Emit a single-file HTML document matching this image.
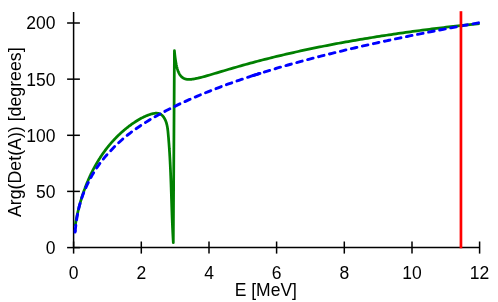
<!DOCTYPE html>
<html><head><meta charset="utf-8"><style>
html,body{margin:0;padding:0;background:#fff;}
body{width:498px;height:302px;overflow:hidden;}
svg{display:block;will-change:transform;}
.ax{stroke:#000;stroke-width:1.5;fill:none;}
.g{stroke:#008000;stroke-width:2.75;fill:none;stroke-linejoin:round;}
.b{stroke:#0000ff;stroke-width:2.9;fill:none;stroke-linecap:round;stroke-linejoin:round;}
.b1{stroke-dasharray:5.7 5.497;}
.b2{stroke-dasharray:5.7 5.578;}
.r{stroke:#ff0000;stroke-width:2.7;}
.t{font-family:"Liberation Sans",sans-serif;font-size:17.5px;fill:#000;}
</style></head><body>
<svg width="498" height="302" viewBox="0 0 498 302">
<line x1="73.6" y1="12" x2="73.6" y2="247.6" class="ax"/>
<line x1="73.6" y1="247.6" x2="479.6" y2="247.6" class="ax"/>
<line x1="67.1" y1="247.6" x2="79.9" y2="247.6" class="ax"/>
<line x1="67.1" y1="191.4" x2="79.9" y2="191.4" class="ax"/>
<line x1="67.1" y1="135.3" x2="79.9" y2="135.3" class="ax"/>
<line x1="67.1" y1="79.15" x2="79.9" y2="79.15" class="ax"/>
<line x1="67.1" y1="23.0" x2="79.9" y2="23.0" class="ax"/>
<line x1="73.6" y1="241.5" x2="73.6" y2="253.6" class="ax"/>
<line x1="141.3" y1="241.5" x2="141.3" y2="253.6" class="ax"/>
<line x1="209.0" y1="241.5" x2="209.0" y2="253.6" class="ax"/>
<line x1="276.6" y1="241.5" x2="276.6" y2="253.6" class="ax"/>
<line x1="344.3" y1="241.5" x2="344.3" y2="253.6" class="ax"/>
<line x1="412.0" y1="241.5" x2="412.0" y2="253.6" class="ax"/>
<line x1="479.6" y1="241.5" x2="479.6" y2="253.6" class="ax"/>
<path d="M75.14,226.11 L75.22,225.65 L75.29,225.19 L75.36,224.73 L75.44,224.27 L75.51,223.82 L75.59,223.36 L75.67,222.90 L75.75,222.44 L75.83,221.98 L75.91,221.52 L75.99,221.07 L76.08,220.61 L76.16,220.15 L76.25,219.69 L76.34,219.23 L76.42,218.77 L76.51,218.31 L76.60,217.85 L76.69,217.40 L76.79,216.94 L76.88,216.48 L76.98,216.02 L77.07,215.56 L77.17,215.10 L77.27,214.64 L77.37,214.18 L77.47,213.73 L77.57,213.27 L77.67,212.81 L77.77,212.35 L77.88,211.89 L77.98,211.43 L78.09,210.98 L78.20,210.52 L78.31,210.06 L78.42,209.60 L78.53,209.14 L78.64,208.69 L78.76,208.23 L78.87,207.77 L78.99,207.32 L79.11,206.86 L79.22,206.40 L79.34,205.95 L79.46,205.49 L79.59,205.03 L79.71,204.58 L79.83,204.12 L79.96,203.67 L80.08,203.21 L80.21,202.75 L80.34,202.30 L80.47,201.85 L80.60,201.39 L80.73,200.94 L80.87,200.48 L81.00,200.03 L81.14,199.57 L81.27,199.12 L81.41,198.67 L81.55,198.22 L81.69,197.76 L81.83,197.31 L81.97,196.86 L82.12,196.41 L82.26,195.96 L82.41,195.51 L82.55,195.06 L82.70,194.61 L82.85,194.16 L83.00,193.71 L83.15,193.26 L83.31,192.81 L83.46,192.36 L83.62,191.91 L83.77,191.47 L83.93,191.02 L84.09,190.57 L84.25,190.12 L84.41,189.68 L84.57,189.23 L84.74,188.79 L84.90,188.34 L85.07,187.90 L85.24,187.46 L85.40,187.01 L85.57,186.57 L85.74,186.13 L85.92,185.68 L86.09,185.24 L86.26,184.80 L86.44,184.36 L86.62,183.92 L86.79,183.48 L86.97,183.04 L87.15,182.61 L87.33,182.17 L87.52,181.73 L87.70,181.29 L87.89,180.86 L88.07,180.42 L88.26,179.99 L88.45,179.55 L88.64,179.12 L88.83,178.68 L89.02,178.25 L89.22,177.82 L89.41,177.39 L89.61,176.96 L89.81,176.53 L90.00,176.10 L90.20,175.67 L90.41,175.24 L90.61,174.81 L90.81,174.38 L91.02,173.96 L91.22,173.53 L91.43,173.11 L91.64,172.68 L91.85,172.26 L92.06,171.83 L92.27,171.41 L92.48,170.99 L92.70,170.57 L92.91,170.15 L93.13,169.73 L93.35,169.31 L93.57,168.89 L93.79,168.47 L94.01,168.06 L94.24,167.64 L94.46,167.23 L94.69,166.81 L94.91,166.40 L95.14,165.99 L95.37,165.57 L95.60,165.16 L95.83,164.75 L96.07,164.34 L96.30,163.93 L96.54,163.53 L96.78,163.12 L97.01,162.71 L97.25,162.31 L97.50,161.90 L97.74,161.50 L97.98,161.10 L98.23,160.69 L98.47,160.29 L98.72,159.89 L98.97,159.49 L99.22,159.10 L99.47,158.70 L99.72,158.30 L99.98,157.91 L100.23,157.51 L100.49,157.12 L100.75,156.72 L101.01,156.33 L101.27,155.94 L101.53,155.55 L101.79,155.16 L102.05,154.77 L102.32,154.39 L102.59,154.00 L102.85,153.62 L103.12,153.23 L103.39,152.85 L103.67,152.47 L103.94,152.09 L104.21,151.71 L104.49,151.33 L104.77,150.95 L105.05,150.57 L105.33,150.20 L105.61,149.82 L105.89,149.45 L106.17,149.08 L106.46,148.70 L106.75,148.33 L107.03,147.96 L107.32,147.60 L107.61,147.23 L107.90,146.86 L108.20,146.50 L108.49,146.13 L108.79,145.77 L109.08,145.41 L109.38,145.05 L109.68,144.69 L109.98,144.33 L110.29,143.98 L110.59,143.62 L110.89,143.27 L111.20,142.91 L111.51,142.56 L111.82,142.21 L112.13,141.86 L112.44,141.51 L112.75,141.16 L113.07,140.82 L113.38,140.47 L113.70,140.13 L114.02,139.78 L114.34,139.44 L114.66,139.10 L114.98,138.76 L115.31,138.42 L115.63,138.09 L115.96,137.75 L116.29,137.42 L116.62,137.08 L116.95,136.75 L117.28,136.42 L117.62,136.09 L117.95,135.76 L118.29,135.43 L118.63,135.11 L118.97,134.78 L119.31,134.46 L119.65,134.14 L119.99,133.82 L120.34,133.50 L120.68,133.18 L121.03,132.86 L121.38,132.54 L121.73,132.23 L122.08,131.92 L122.44,131.60 L122.79,131.29 L123.15,130.98 L123.51,130.67 L123.87,130.37 L124.23,130.06 L124.59,129.75 L124.95,129.45 L125.32,129.15 L125.69,128.85 L126.05,128.55 L126.42,128.25 L126.79,127.95 L127.17,127.66 L127.54,127.36 L127.92,127.07 L128.29,126.78 L128.67,126.48 L129.05,126.20 L129.43,125.91 L129.82,125.62 L130.20,125.33 L130.59,125.05 L130.97,124.77 L131.36,124.49 L131.75,124.21 L132.14,123.93 L132.54,123.65 L132.93,123.37 L133.33,123.10 L133.73,122.83 L134.12,122.56 L134.53,122.29 L134.93,122.02 L135.33,121.76 L135.74,121.49 L136.14,121.23 L136.55,120.98 L136.96,120.72 L137.37,120.47 L137.79,120.22 L138.20,119.97 L138.62,119.72 L139.03,119.48 L139.45,119.24 L139.87,119.00 L140.29,118.76 L140.72,118.53 L141.14,118.30 L141.57,118.08 L142.00,117.86 L142.43,117.64 L142.86,117.42 L143.29,117.21 L143.72,117.00 L144.16,116.79 L144.60,116.59 L145.04,116.39 L145.48,116.20 L145.92,116.01 L146.36,115.82 L146.81,115.64 L147.25,115.46 L147.70,115.29 L148.15,115.11 L148.60,114.95 L149.06,114.79 L149.51,114.63 L149.97,114.48 L150.42,114.33 L150.88,114.19 L151.34,114.05 L151.80,113.92 L152.26,113.80 L152.72,113.69 L153.17,113.58 L153.63,113.49 L154.08,113.41 L154.53,113.34 L154.98,113.28 L155.42,113.24 L155.87,113.21 L156.30,113.19 L156.73,113.20 L157.16,113.21 L157.58,113.25 L157.99,113.30 L158.40,113.38 L158.80,113.47 L159.19,113.59 L159.58,113.72 L159.95,113.88 L160.32,114.06 L160.68,114.27 L161.03,114.49 L161.37,114.74 L161.70,115.00 L162.03,115.28 L162.34,115.58 L162.64,115.90 L162.94,116.23 L163.22,116.57 L163.50,116.93 L163.77,117.30 L164.02,117.68 L164.27,118.07 L164.50,118.47 L164.73,118.87 L164.95,119.28 L165.16,119.70 L165.35,120.12 L165.54,120.55 L165.72,120.98 L165.89,121.41 L166.05,121.85 L166.20,122.29 L166.34,122.74 L166.48,123.19 L166.61,123.64 L166.73,124.10 L166.84,124.55 L166.95,125.02 L167.05,125.48 L167.15,125.95 L167.24,126.41 L167.33,126.88 L167.41,127.36 L167.48,127.83 L167.55,128.31 L167.62,128.79 L167.68,129.26 L167.74,129.74 L167.80,130.23 L167.85,130.71 L167.91,131.19 L167.96,131.67 L168.00,132.16 L168.05,132.64 L168.09,133.13 L168.14,133.61 L168.18,134.09 L168.23,134.58 L168.27,135.06 L168.31,135.54 L168.35,136.03 L168.39,136.51 L168.43,136.99 L168.48,137.47 L168.52,137.95 L168.56,138.43 L168.59,138.92 L168.63,139.40 L168.67,139.88 L168.71,140.36 L168.75,140.84 L168.79,141.32 L168.82,141.79 L168.86,142.27 L168.90,142.75 L168.93,143.23 L168.97,143.71 L169.00,144.19 L169.04,144.67 L169.07,145.14 L169.11,145.62 L169.14,146.10 L169.17,146.57 L169.21,147.05 L169.24,147.53 L169.27,148.00 L169.30,148.48 L169.34,148.95 L169.37,149.43 L169.40,149.91 L169.43,150.38 L169.46,150.85 L169.49,151.33 L169.52,151.80 L169.55,152.28 L169.58,152.75 L169.61,153.23 L169.64,153.70 L169.67,154.17 L169.69,154.65 L169.72,155.12 L169.75,155.59 L169.78,156.06 L169.80,156.54 L169.83,157.01 L169.86,157.48 L169.88,157.95 L169.91,158.43 L169.93,158.90 L169.96,159.37 L169.99,159.84 L170.01,160.31 L170.03,160.78 L170.06,161.25 L170.08,161.72 L170.11,162.19 L170.13,162.66 L170.15,163.13 L170.18,163.60 L170.20,164.07 L170.22,164.54 L170.25,165.01 L170.27,165.48 L170.29,165.95 L170.31,166.42 L170.33,166.89 L170.36,167.36 L170.38,167.83 L170.40,168.30 L170.42,168.77 L170.44,169.23 L170.46,169.70 L170.48,170.17 L170.50,170.64 L170.52,171.11 L170.54,171.58 L170.56,172.04 L170.58,172.51 L170.60,172.98 L170.62,173.45 L170.64,173.91 L170.65,174.38 L170.67,174.85 L170.69,175.32 L170.71,175.78 L170.73,176.25 L170.75,176.72 L170.76,177.19 L170.78,177.65 L170.80,178.12 L170.82,178.59 L170.83,179.05 L170.85,179.52 L170.87,179.99 L170.88,180.45 L170.90,180.92 L170.92,181.39 L170.93,181.85 L170.95,182.32 L170.97,182.79 L170.98,183.25 L171.00,183.72 L171.02,184.19 L171.03,184.65 L171.05,185.12 L171.06,185.59 L171.08,186.05 L171.09,186.52 L171.11,186.99 L171.13,187.45 L171.14,187.92 L171.16,188.38 L171.17,188.85 L171.19,189.32 L171.20,189.78 L171.22,190.25 L171.23,190.72 L171.25,191.18 L171.26,191.65 L171.28,192.12 L171.29,192.58 L171.31,193.05 L171.32,193.51 L171.34,193.98 L171.35,194.45 L171.37,194.91 L171.38,195.38 L171.40,195.85 L171.41,196.31 L171.43,196.78 L171.44,197.25 L171.45,197.72 L171.47,198.18 L171.48,198.65 L171.50,199.12 L171.51,199.58 L171.53,200.05 L171.54,200.52 L171.56,200.99 L171.57,201.45 L171.59,201.92 L171.60,202.39 L171.62,202.86 L171.63,203.32 L171.65,203.79 L171.66,204.26 L171.68,204.73 L171.69,205.20 L171.71,205.66 L171.72,206.13 L171.74,206.60 L171.75,207.07 L171.77,207.54 L171.78,208.01 L171.80,208.47 L171.82,208.94 L171.83,209.41 L171.85,209.88 L171.86,210.35 L171.88,210.82 L171.89,211.29 L171.91,211.76 L171.93,212.23 L171.94,212.70 L171.96,213.17 L171.98,213.64 L171.99,214.11 L172.01,214.58 L172.03,215.05 L172.04,215.52 L172.06,215.99 L172.08,216.46 L172.09,216.94 L172.11,217.41 L172.13,217.88 L172.15,218.35 L172.17,218.82 L172.18,219.29 L172.20,219.77 L172.22,220.24 L172.24,220.71 L172.26,221.19 L172.28,221.66 L172.29,222.13 L172.31,222.60 L172.33,223.08 L172.35,223.55 L172.37,224.03 L172.39,224.50 L172.41,224.98 L172.43,225.45 L172.45,225.92 L172.47,226.40 L172.49,226.87 L172.51,227.35 L172.53,227.83 L172.56,228.30 L172.58,228.78 L172.60,229.25 L172.62,229.73 L172.64,230.21 L172.67,230.69 L172.69,231.16 L172.71,231.64 L172.73,232.12 L172.76,232.60 L172.78,233.07 L172.80,233.55 L172.83,234.03 L172.85,234.51 L172.88,234.99 L172.90,235.47 L172.93,235.95 L172.95,236.43 L172.98,236.91 L173.00,237.39 L173.03,237.87 L173.06,238.35 L173.08,238.84 L173.11,239.32 L173.14,239.80 L173.16,240.28 L173.19,240.76 L173.22,241.25 L173.25,241.73 L173.28,242.21 L173.30,242.70 L174.42,50.71 L174.60,52.57 L174.77,54.28 L174.95,55.85 L175.13,57.30 L175.30,58.65 L175.48,59.89 L175.66,61.05 L175.83,62.12 L176.01,63.12 L176.19,64.06 L176.36,64.93 L176.54,65.75 L176.71,66.52 L176.89,67.23 L177.07,67.91 L177.24,68.54 L177.42,69.14 L177.60,69.70 L177.77,70.23 L177.95,70.73 L178.12,71.20 L178.30,71.65 L178.48,72.07 L178.65,72.47 L178.83,72.85 L179.01,73.21 L179.18,73.55 L179.36,73.87 L179.53,74.18 L179.71,74.47 L179.89,74.75 L180.06,75.01 L180.24,75.26 L180.42,75.50 L180.59,75.72 L180.77,75.94 L180.94,76.14 L181.12,76.34 L181.30,76.52 L181.47,76.70 L181.65,76.87 L181.83,77.03 L182.00,77.18 L182.18,77.32 L182.35,77.46 L182.53,77.59 L182.71,77.72 L182.88,77.83 L183.06,77.95 L183.24,78.05 L183.41,78.15 L183.59,78.25 L183.76,78.34 L183.94,78.43 L184.12,78.51 L184.29,78.59 L184.47,78.66 L184.65,78.73 L184.82,78.80 L185.00,78.86 L185.17,78.91 L185.35,78.97 L185.53,79.02 L185.70,79.07 L185.88,79.11 L186.06,79.15 L186.23,79.19 L186.41,79.22 L186.59,79.26 L186.76,79.28 L186.94,79.31 L187.11,79.33 L187.29,79.36 L187.47,79.37 L187.64,79.39 L187.82,79.40 L188.00,79.41 L188.17,79.42 L188.35,79.43 L188.52,79.43 L188.70,79.44 L188.88,79.44 L189.05,79.43 L189.23,79.43 L189.41,79.43 L189.58,79.42 L189.76,79.42 L189.93,79.41 L190.11,79.40 L190.29,79.39 L190.46,79.37 L190.64,79.36 L190.82,79.35 L190.99,79.33 L191.17,79.32 L191.34,79.30 L191.52,79.28 L191.70,79.26 L191.87,79.24 L192.05,79.22 L192.23,79.20 L192.40,79.17 L192.58,79.15 L192.75,79.13 L192.93,79.10 L193.11,79.08 L193.28,79.05 L193.46,79.02 L193.64,78.99 L193.81,78.96 L193.99,78.93 L194.16,78.90 L194.34,78.87 L194.52,78.84 L194.69,78.81 L194.87,78.78 L195.05,78.74 L195.22,78.71 L195.40,78.68 L197.79,78.17 L200.18,77.60 L202.56,76.98 L204.95,76.32 L207.34,75.65 L209.73,74.96 L212.12,74.25 L214.50,73.55 L216.89,72.83 L219.28,72.12 L221.67,71.41 L224.06,70.70 L226.45,69.99 L228.83,69.29 L231.22,68.59 L233.61,67.89 L236.00,67.20 L238.39,66.52 L240.77,65.84 L243.16,65.17 L245.55,64.51 L247.94,63.85 L250.33,63.19 L252.72,62.55 L255.10,61.91 L257.49,61.28 L259.88,60.65 L262.27,60.03 L264.66,59.42 L267.05,58.81 L269.43,58.21 L271.82,57.62 L274.21,57.03 L276.60,56.45 L278.99,55.87 L281.37,55.30 L283.76,54.74 L286.15,54.18 L288.54,53.63 L290.93,53.09 L293.32,52.55 L295.70,52.01 L298.09,51.48 L300.48,50.96 L302.87,50.44 L305.26,49.93 L307.64,49.42 L310.03,48.92 L312.42,48.42 L314.81,47.93 L317.20,47.44 L319.59,46.96 L321.97,46.48 L324.36,46.01 L326.75,45.54 L329.14,45.08 L331.53,44.62 L333.92,44.17 L336.30,43.72 L338.69,43.27 L341.08,42.83 L343.47,42.40 L345.86,41.97 L348.24,41.54 L350.63,41.12 L353.02,40.70 L355.41,40.28 L357.80,39.87 L360.19,39.47 L362.57,39.06 L364.96,38.67 L367.35,38.27 L369.74,37.88 L372.13,37.49 L374.51,37.11 L376.90,36.73 L379.29,36.36 L381.68,35.98 L384.07,35.62 L386.46,35.25 L388.84,34.89 L391.23,34.53 L393.62,34.18 L396.01,33.83 L398.40,33.48 L400.79,33.14 L403.17,32.80 L405.56,32.46 L407.95,32.13 L410.34,31.80 L412.73,31.47 L415.11,31.15 L417.50,30.82 L419.89,30.51 L422.28,30.19 L424.67,29.88 L427.06,29.57 L429.44,29.27 L431.83,28.97 L434.22,28.67 L436.61,28.37 L439.00,28.08 L441.38,27.79 L443.77,27.50 L446.16,27.21 L448.55,26.93 L450.94,26.65 L453.33,26.38 L455.71,26.10 L458.10,25.83 L460.49,25.56 L462.88,25.30 L465.27,25.04 L467.65,24.78 L470.04,24.52 L472.43,24.27 L474.82,24.01 L477.21,23.76 L479.60,23.52" class="g"/>
<path d="M75.08,232.12 L75.11,231.89 L75.13,231.65 L75.15,231.41 L75.17,231.17 L75.20,230.93" class="b"/>
<path d="M75.20,230.93 L75.27,230.23 L75.34,229.51 L75.42,228.79 L75.50,228.06 L75.58,227.32 L75.67,226.57 L75.76,225.81 L75.86,225.04 L75.96,224.26 L76.06,223.48 L76.17,222.69 L76.28,221.88 L76.40,221.07 L76.52,220.25 L76.65,219.41 L76.78,218.57 L76.92,217.72 L77.07,216.86 L77.22,215.98 L77.38,215.10 L77.55,214.21 L77.72,213.31 L77.91,212.39 L78.10,211.47 L78.30,210.53 L78.51,209.59 L78.73,208.63 L78.96,207.66 L79.20,206.68 L79.46,205.69 L79.73,204.68 L80.01,203.67 L80.30,202.64 L80.61,201.60 L80.94,200.55 L81.28,199.49 L81.63,198.41 L82.00,197.32 L82.39,196.22 L82.80,195.11 L83.22,193.98 L83.67,192.84 L84.13,191.69 L84.62,190.52 L85.12,189.34 L85.65,188.14 L86.19,186.93 L86.76,185.71 L87.34,184.47 L87.95,183.22 L88.57,181.96 L89.21,180.67 L89.88,179.38 L90.57,178.07 L91.29,176.74 L92.04,175.40 L92.82,174.04 L93.64,172.67 L94.50,171.28 L97.09,167.32 L99.68,163.68 L102.27,160.30 L104.85,157.14 L107.44,154.17 L110.02,151.37 L112.56,148.70 L115.08,146.17 L117.58,143.75 L120.07,141.44 L122.56,139.22 L125.06,137.08 L127.59,135.02 L130.14,133.04 L132.73,131.12 L135.32,129.26 L137.91,127.46 L140.49,125.72 L143.08,124.02 L145.67,122.37 L148.26,120.77 L150.85,119.21 L153.44,117.68 L156.03,116.20 L158.61,114.74 L161.20,113.32 L163.79,111.93 L166.38,110.57 L168.97,109.24 L171.56,107.93 L174.15,106.65 L176.73,105.40 L179.32,104.16 L181.91,102.95 L184.50,101.76 L187.09,100.59 L189.68,99.44 L192.27,98.30 L194.85,97.18 L197.44,96.08 L200.03,94.99 L202.62,93.92 L205.21,92.87 L207.80,91.82 L210.39,90.79 L212.97,89.78 L215.56,88.78 L218.15,87.79 L220.74,86.81 L223.33,85.85 L225.92,84.90 L228.51,83.96 L231.09,83.03 L233.68,82.12 L236.27,81.21 L238.86,80.31 L241.45,79.43 L244.04,78.55 L246.63,77.69 L249.21,76.83 L251.80,75.99 L253.49,75.44" class="b b1"/>
<path d="M253.49,75.44 L254.39,75.15 L256.98,74.32 L259.57,73.50 L262.16,72.69 L264.75,71.88 L267.33,71.09 L269.92,70.30 L272.51,69.52 L275.10,68.75 L277.69,67.98 L280.28,67.22 L282.87,66.47 L285.45,65.72 L288.04,64.99 L290.63,64.25 L293.22,63.53 L295.81,62.81 L298.40,62.10 L300.99,61.39 L303.57,60.69 L306.16,59.99 L308.75,59.30 L311.34,58.62 L313.93,57.94 L316.52,57.27 L319.10,56.60 L321.69,55.94 L324.28,55.28 L326.87,54.63 L329.46,53.98 L332.05,53.34 L334.64,52.70 L337.22,52.06 L339.81,51.43 L342.40,50.81 L344.99,50.19 L347.58,49.57 L350.17,48.96 L352.76,48.35 L355.34,47.75 L357.93,47.15 L360.52,46.55 L363.11,45.96 L365.70,45.38 L368.29,44.79 L370.88,44.21 L373.46,43.64 L376.05,43.06 L378.64,42.49 L381.23,41.93 L383.82,41.37 L386.41,40.81 L389.00,40.25 L391.58,39.70 L394.17,39.15 L396.76,38.61 L399.35,38.06 L401.94,37.53 L404.53,36.99 L407.12,36.46 L409.70,35.93 L412.29,35.40 L414.88,34.88 L417.47,34.36 L420.06,33.84 L422.65,33.32 L425.24,32.81 L427.82,32.30 L430.41,31.79 L433.00,31.29 L435.59,30.79 L438.18,30.29 L440.77,29.79 L443.36,29.30 L445.94,28.81 L448.53,28.32 L451.12,27.83 L453.71,27.35 L456.30,26.87 L458.89,26.39 L461.48,25.91 L464.06,25.44 L466.65,24.97 L469.24,24.50 L471.83,24.03 L474.42,23.57 L477.01,23.10 L479.60,22.64" class="b b2"/>
<path d="M253.49,75.44 L254.39,75.15 L256.98,74.32 L259.57,73.50 L259.97,73.37" class="b"/>
<line x1="460.95" y1="11.2" x2="460.95" y2="248.3" class="r"/>
<text x="55.4" y="253.9" text-anchor="end" class="t">0</text>
<text x="55.4" y="197.7" text-anchor="end" class="t">50</text>
<text x="55.4" y="141.6" text-anchor="end" class="t">100</text>
<text x="55.4" y="85.5" text-anchor="end" class="t">150</text>
<text x="55.4" y="29.3" text-anchor="end" class="t">200</text>
<text x="73.6" y="279.3" text-anchor="middle" class="t">0</text>
<text x="141.3" y="279.3" text-anchor="middle" class="t">2</text>
<text x="209.0" y="279.3" text-anchor="middle" class="t">4</text>
<text x="276.6" y="279.3" text-anchor="middle" class="t">6</text>
<text x="344.3" y="279.3" text-anchor="middle" class="t">8</text>
<text x="412.0" y="279.3" text-anchor="middle" class="t">10</text>
<text x="479.6" y="279.3" text-anchor="middle" class="t">12</text>
<text x="265.8" y="295.6" text-anchor="middle" class="t">E [MeV]</text>
<text transform="translate(20.5,132.2) rotate(-90)" text-anchor="middle" class="t" style="font-size:17.75px">Arg(Det(A)) [degrees]</text>
</svg>
</body></html>
